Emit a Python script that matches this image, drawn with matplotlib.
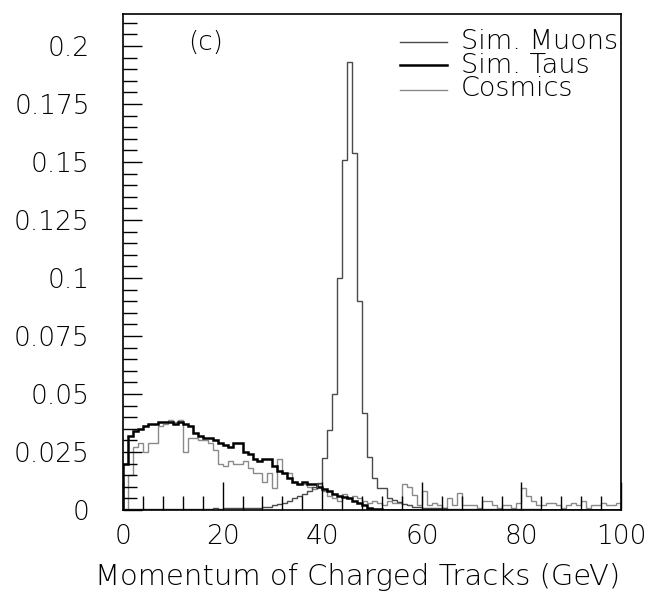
import numpy as np
import matplotlib
matplotlib.use("Agg")
import matplotlib.pyplot as plt
from matplotlib.ticker import MultipleLocator, FixedLocator

bin_edges = np.arange(0, 101, 1)

sim_muons = [
    0.0004, 0.0003, 0.0004, 0.0003, 0.0005, 0.0004, 0.0003, 0.0004, 0.0005, 0.0004,
    0.0005, 0.0004, 0.0005, 0.0006, 0.0005, 0.0006, 0.0005, 0.0006, 0.0007, 0.0006,
    0.0007, 0.0008, 0.0007, 0.0008, 0.0009, 0.0009, 0.0010, 0.0010, 0.0012, 0.0015,
    0.0020, 0.0025, 0.0030, 0.0040, 0.0050, 0.0060, 0.0070, 0.0080, 0.0100, 0.0116,
    0.0224, 0.0345, 0.0500, 0.1000, 0.1510, 0.1930, 0.1540, 0.0900, 0.0420, 0.0230,
    0.0140, 0.0095, 0.0095, 0.0050, 0.0045, 0.0035, 0.0025, 0.0020, 0.0015, 0.0012,
    0.0010, 0.0009, 0.0008, 0.0007, 0.0007, 0.0006, 0.0006, 0.0005, 0.0005, 0.0005,
    0.0004, 0.0004, 0.0004, 0.0004, 0.0004, 0.0003, 0.0003, 0.0003, 0.0003, 0.0003,
    0.0003, 0.0003, 0.0003, 0.0003, 0.0002, 0.0002, 0.0002, 0.0002, 0.0002, 0.0002,
    0.0002, 0.0002, 0.0002, 0.0002, 0.0002, 0.0002, 0.0002, 0.0002, 0.0002, 0.0002,
]

sim_taus = [
    0.020, 0.032, 0.034, 0.035, 0.036, 0.037, 0.037, 0.038, 0.038, 0.038,
    0.037, 0.038, 0.037, 0.036, 0.033, 0.032, 0.031, 0.031, 0.030, 0.029,
    0.028, 0.027, 0.029, 0.029, 0.025, 0.024, 0.022, 0.021, 0.022, 0.022,
    0.019, 0.017, 0.016, 0.014, 0.012, 0.011, 0.012, 0.011, 0.011, 0.010,
    0.009, 0.008, 0.007, 0.006, 0.0055, 0.005, 0.004, 0.003, 0.002, 0.001,
    0.0005, 0.0003, 0.0002, 0.0001, 0.0001, 0.0, 0.0, 0.0, 0.0, 0.0,
    0.0, 0.0, 0.0, 0.0, 0.0, 0.0, 0.0, 0.0, 0.0, 0.0,
    0.0, 0.0, 0.0, 0.0, 0.0, 0.0, 0.0, 0.0, 0.0, 0.0,
    0.0, 0.0, 0.0, 0.0, 0.0, 0.0, 0.0, 0.0, 0.0, 0.0,
    0.0, 0.0, 0.0, 0.0, 0.0, 0.0, 0.0, 0.0, 0.0, 0.0,
]

cosmics = [
    0.000, 0.015, 0.027, 0.029, 0.025, 0.029, 0.029, 0.036, 0.037, 0.039,
    0.038, 0.039, 0.025, 0.031, 0.031, 0.030, 0.030, 0.029, 0.026, 0.020,
    0.019, 0.021, 0.020, 0.020, 0.021, 0.018, 0.016, 0.016, 0.012, 0.016,
    0.0095, 0.022, 0.016, 0.016, 0.012, 0.011, 0.011, 0.010, 0.009, 0.011,
    0.008, 0.006, 0.005, 0.004, 0.007, 0.005, 0.006, 0.005, 0.004, 0.003,
    0.004, 0.003, 0.002, 0.004, 0.003, 0.003, 0.011, 0.010, 0.0065, 0.002,
    0.008, 0.002, 0.003, 0.002, 0.001, 0.005, 0.002, 0.0075, 0.002, 0.002,
    0.002, 0.001, 0.004, 0.004, 0.002, 0.001, 0.002, 0.002, 0.001, 0.003,
    0.0095, 0.006, 0.004, 0.002, 0.002, 0.003, 0.003, 0.002, 0.001, 0.002,
    0.003, 0.002, 0.004, 0.001, 0.002, 0.002, 0.003, 0.002, 0.002, 0.003,
]

series_names = ["Sim. Muons", "Sim. Taus", "Cosmics"]

y_ticks = [0, 0.025, 0.05, 0.075, 0.1, 0.125, 0.15, 0.175, 0.2]
y_tick_labels = ["0", "0.025", "0.05", "0.075", "0.1", "0.125", "0.15", "0.175", "0.2"]
x_ticks = [0, 20, 40, 60, 80, 100]
x_tick_labels = ["0", "20", "40", "60", "80", "100"]

plt.rcParams['font.family'] = ['DejaVu Sans']

FS = 19

fig = plt.figure(figsize=(6.52, 5.96), dpi=100)
ax = fig.add_axes([0.1887, 0.1443, 0.7638, 0.8322])

ax.stairs(cosmics, bin_edges, color="#8a8a8a", lw=1.0)
ax.stairs(sim_taus, bin_edges, color="#000000", lw=1.8)
ax.stairs(sim_muons, bin_edges, color="#4a4a4a", lw=1.0)

ax.set_xlim(0, 100)
ax.set_ylim(0, 0.2138)

ax.yaxis.set_major_locator(FixedLocator(y_ticks))
ax.set_yticklabels(y_tick_labels)
ax.yaxis.set_minor_locator(MultipleLocator(0.005))
ax.xaxis.set_major_locator(FixedLocator(x_ticks))
ax.set_xticklabels(x_tick_labels)
ax.xaxis.set_minor_locator(MultipleLocator(4))

ax.tick_params(axis='both', which='both', direction='in', top=False, right=False,
               labelsize=FS, colors='black', width=1.0)
ax.tick_params(axis='y', which='major', length=14, pad=24)
ax.tick_params(axis='y', which='minor', length=10)
ax.tick_params(axis='x', which='major', length=20, pad=10)
ax.tick_params(axis='x', which='minor', length=10)
for lab in ax.get_xticklabels() + ax.get_yticklabels():
    lab.set_fontweight('light')

for s in ax.spines.values():
    s.set_linewidth(1.2)

ax.set_xlabel("Momentum of Charged Tracks (GeV)", fontsize=21, fontweight='light', va='center')
ax.xaxis.set_label_coords(0.472, -0.135)

ax.text(16.5, 0.2015, "(c)", fontsize=FS, fontweight='light', ha='center', va='center')

leg_y = [0.2017, 0.1918, 0.1810]
leg_col = ["#4a4a4a", "#000000", "#8a8a8a"]
leg_lw = [1.0, 1.8, 1.0]
for yy, col, lw in zip(leg_y, leg_col, leg_lw):
    ax.plot([55.6, 65], [yy, yy], color=col, lw=lw)
ax.text(67.8, leg_y[1], "\n".join(series_names), fontsize=19.5, fontweight='light',
        ha='left', va='center', linespacing=0.91)

fig.savefig("out.png", dpi=100)
